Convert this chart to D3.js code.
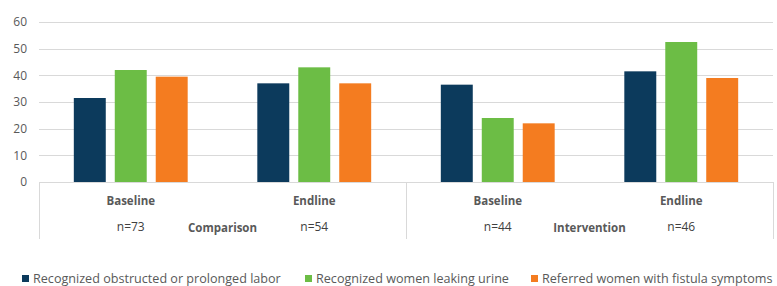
<!DOCTYPE html>
<html>
<head>
<meta charset="utf-8">
<script src="https://cdn.jsdelivr.net/npm/d3@7"></script>
<style>
  body { margin: 0; background: #fff; }
  text { font-family: "Open Sans", sans-serif; }
</style>
</head>
<body>
<div id="chart"></div>
<script>
var svgWidth = 777;
var svgHeight = 286;

var margin = { top: 22, right: 4, bottom: 104, left: 39 };
var width = svgWidth - margin.left - margin.right;
var height = svgHeight - margin.top - margin.bottom;

// data
var periods = ["Baseline", "Endline", "Baseline", "Endline"];
var sampleSizes = ["n=73", "n=54", "n=44", "n=46"];
var groups = ["Comparison", "Intervention"];
var series = ["Recognized obstructed or prolonged labor", "Recognized women leaking urine", "Referred women with fistula symptoms"];
var colors = ["#0c3a5c", "#6cbd45", "#f47c20"];
var obstructed = [31.5, 37, 36.5, 41.5];
var leaking = [42, 43, 24, 52.5];
var referred = [39.5, 37, 22, 39];
var yTicks = [0, 10, 20, 30, 40, 50, 60];

var values = [obstructed, leaking, referred];
var keys = periods.map(function(p, i) { return i; });

var svg = d3.select("#chart")
  .append("svg")
  .attr("width", svgWidth)
  .attr("height", svgHeight);

var chart = svg.append("g")
  .attr("transform", "translate(" + margin.left + "," + margin.top + ")");

var x0 = d3.scaleBand().domain(keys).range([0, width]).padding(0);
var x1 = d3.scaleBand().domain(d3.range(series.length))
  .range([0, x0.bandwidth()])
  .paddingInner(0.22)
  .paddingOuter(0.85);
var y = d3.scaleLinear().domain([0, 60]).range([height, 0]);

// gridlines
chart.append("g")
  .selectAll("line")
  .data(yTicks)
  .enter().append("line")
    .attr("x1", 0)
    .attr("x2", width)
    .attr("y1", function(d) { return Math.round(y(d)) + 0.5; })
    .attr("y2", function(d) { return Math.round(y(d)) + 0.5; })
    .attr("stroke", "#d9d9d9")
    .attr("stroke-width", 1);

// y axis labels
var leftAxis = d3.axisLeft(y).tickValues(yTicks).tickSize(0).tickPadding(12);
var yAxis = chart.append("g").call(leftAxis);
yAxis.select(".domain").remove();
yAxis.selectAll("text")
  .attr("fill", "#595959")
  .style("font-size", "12px")
  .style("font-family", "'Open Sans', sans-serif");

// bars
var catG = chart.selectAll(".cat")
  .data(keys)
  .enter().append("g")
    .attr("class", "cat")
    .attr("transform", function(d) { return "translate(" + x0(d) + ",0)"; });

catG.selectAll("rect")
  .data(function(c) { return values.map(function(v, s) { return { s: s, v: v[c] }; }); })
  .enter().append("rect")
    .attr("x", function(d) { return x1(d.s); })
    .attr("width", x1.bandwidth())
    .attr("y", function(d) { return y(d.v); })
    .attr("height", function(d) { return height - y(d.v); })
    .attr("fill", function(d) { return colors[d.s]; });

// category box separators
var boxBottom = height + 57;
var seps = [0, x0(2), width];
chart.selectAll(".sep")
  .data(seps)
  .enter().append("line")
    .attr("class", "sep")
    .attr("x1", function(d) { return Math.round(d) + 0.5; })
    .attr("x2", function(d) { return Math.round(d) + 0.5; })
    .attr("y1", height)
    .attr("y2", boxBottom)
    .attr("stroke", "#d9d9d9");

// period labels
chart.selectAll(".period")
  .data(keys)
  .enter().append("text")
    .attr("class", "period")
    .attr("x", function(d) { return x0(d) + x0.bandwidth() / 2; })
    .attr("y", height + 23)
    .attr("text-anchor", "middle")
    .attr("fill", "#595959")
    .style("font-size", "11.5px")
    .style("font-weight", "bold")
    .text(function(d) { return periods[d]; });

chart.selectAll(".nsize")
  .data(keys)
  .enter().append("text")
    .attr("class", "nsize")
    .attr("x", function(d) { return x0(d) + x0.bandwidth() / 2; })
    .attr("y", height + 49)
    .attr("text-anchor", "middle")
    .attr("fill", "#404040")
    .style("font-size", "12px")
    .text(function(d) { return sampleSizes[d]; });

chart.selectAll(".group")
  .data(groups)
  .enter().append("text")
    .attr("class", "group")
    .attr("x", function(d, i) { return x0(i * 2) + x0.bandwidth(); })
    .attr("y", height + 50)
    .attr("text-anchor", "middle")
    .attr("fill", "#595959")
    .style("font-size", "11.5px")
    .style("font-weight", "bold")
    .text(function(d) { return d; });

// legend
var legendX = [22, 305, 531];
var legend = svg.selectAll(".legend")
  .data(series)
  .enter().append("g")
    .attr("class", "legend")
    .attr("transform", function(d, i) { return "translate(" + legendX[i] + ",275)"; });

legend.append("rect")
  .attr("width", 7)
  .attr("height", 7)
  .attr("fill", function(d, i) { return colors[i]; });

legend.append("text")
  .attr("x", 11)
  .attr("y", 8)
  .attr("fill", "#595959")
  .style("font-size", "12.6px")
  .text(function(d) { return d; });
</script>
</body>
</html>
